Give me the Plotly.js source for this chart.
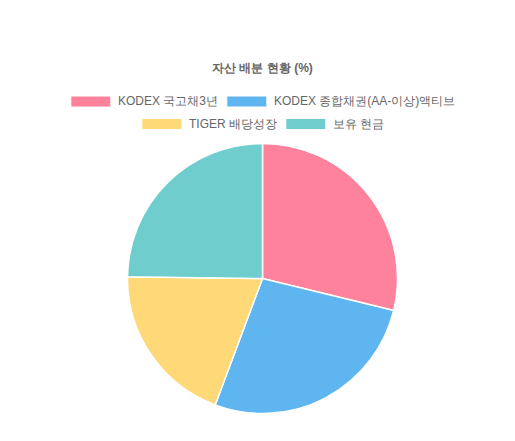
<!DOCTYPE html>
<html>
<head>
<meta charset="utf-8">
<script src="https://cdn.plot.ly/plotly-3.0.1.min.js"></script>
<style>
  html, body { margin: 0; padding: 0; background: #fff; }
  #chart { width: 515px; height: 441px; }
</style>
</head>
<body>
<div id="chart"></div>
<script>
// data
var labels = ['KODEX 국고채3년', 'KODEX 종합채권(AA-이상)액티브', 'TIGER 배당성장', '보유 현금'];
var values = [28.8, 26.9, 19.5, 24.8];
var colors = ['rgba(255,99,132,0.8)', 'rgba(54,162,235,0.8)', 'rgba(255,206,86,0.8)', 'rgba(75,192,192,0.8)'];
var legendRows = [[0, 1], [2, 3]];
var titleText = '자산 배분 현황 (%)';

var W = 515, H = 441;
var FONT = "'Helvetica Neue', Helvetica, Arial, sans-serif";
var cx = 262.5;   // horizontal centre of the chart canvas

function px(x) { return x / W; }
function py(y) { return 1 - y / H; }

// measure legend text so the rows can be centred like the original
var ctx = document.createElement('canvas').getContext('2d');
ctx.font = '12px ' + FONT;
function textWidth(t) { return ctx.measureText(t).width; }

var shapes = [];
var annotations = [];
var boxW = 40, boxH = 11, gap = 6, pad = 10;
var rowY = [101.5, 124];

legendRows.forEach(function(row, r) {
    var widths = row.map(function(i) { return boxW + gap + textWidth(labels[i]); });
    var total = widths.reduce(function(a, b) { return a + b; }, 0) + pad * (row.length - 1);
    var x = cx - total / 2;
    var y = rowY[r];
    row.forEach(function(i, k) {
        shapes.push({
            type: 'rect', xref: 'paper', yref: 'paper',
            x0: px(x), x1: px(x + boxW), y0: py(y - boxH / 2), y1: py(y + boxH / 2),
            fillcolor: colors[i], line: {color: '#fff', width: 1}
        });
        annotations.push({
            xref: 'paper', yref: 'paper', showarrow: false,
            x: px(x + boxW + gap - 1), y: py(y), xanchor: 'left', yanchor: 'middle',
            text: labels[i], font: {family: FONT, size: 12, color: '#666'}
        });
        x += widths[k] + pad;
    });
});

var r = 135, cy = 278.5;
var data = [{
    type: 'pie',
    labels: labels,
    values: values,
    sort: false,
    direction: 'clockwise',
    rotation: 0,
    textinfo: 'none',
    hoverinfo: 'label+value',
    showlegend: false,
    marker: {colors: colors, line: {color: '#fff', width: 1.5}},
    domain: {x: [px(cx - r), px(cx + r)], y: [py(cy + r), py(cy - r)]}
}];

var layout = {
    width: W,
    height: H,
    margin: {l: 0, r: 0, t: 0, b: 0},
    paper_bgcolor: '#fff',
    plot_bgcolor: '#fff',
    showlegend: false,
    title: {
        text: titleText,
        x: px(cx), xref: 'paper', xanchor: 'center',
        y: py(68), yref: 'paper', yanchor: 'middle',
        font: {family: FONT, size: 12, color: '#666', weight: 'bold'}
    },
    shapes: shapes,
    annotations: annotations
};

Plotly.newPlot('chart', data, layout, {displayModeBar: false, staticPlot: true});
</script>
</body>
</html>
